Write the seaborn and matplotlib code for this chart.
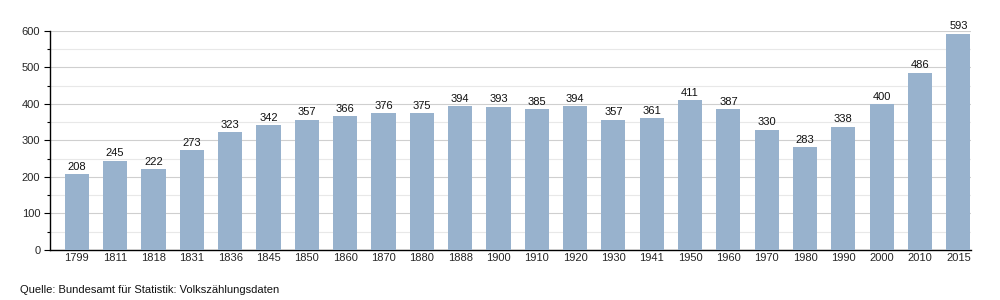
import matplotlib
matplotlib.use("Agg")
import matplotlib.pyplot as plt
import seaborn as sns
import pandas as pd
from matplotlib.ticker import MultipleLocator

years = ["1799", "1811", "1818", "1831", "1836", "1845", "1850", "1860", "1870", "1880",
         "1888", "1900", "1910", "1920", "1930", "1941", "1950", "1960", "1970", "1980",
         "1990", "2000", "2010", "2015"]
population = [208, 245, 222, 273, 323, 342, 357, 366, 376, 375,
              394, 393, 385, 394, 357, 361, 411, 387, 330, 283,
              338, 400, 486, 593]
source_text = "Quelle: Bundesamt für Statistik: Volkszählungsdaten"

sns.set_theme(style="white")
plt.rcParams["font.family"] = ["Liberation Sans", "DejaVu Sans"]

df = pd.DataFrame({"year": years, "pop": population})

fig = plt.figure(figsize=(10, 3), dpi=100)
ax = fig.add_axes([0.05, 0.1667, 0.921, 0.73])

sns.barplot(data=df, x="year", y="pop", color="#98b2cd", width=0.63,
            saturation=1, ax=ax, zorder=3, linewidth=0)

for i, v in enumerate(population):
    ax.text(i, v + 6, str(v), ha="center", va="bottom", fontsize=8,
            color="#111111", clip_on=False, zorder=4)

ax.set_xlim(-0.7, 23.33)
ax.set_ylim(0, 600)
ax.yaxis.set_major_locator(MultipleLocator(100))
ax.yaxis.set_minor_locator(MultipleLocator(50))
ax.grid(axis="y", which="major", color="#cfcfcf", linewidth=0.8, zorder=0)
ax.grid(axis="y", which="minor", color="#e8e8e8", linewidth=0.8, zorder=0)
ax.set_axisbelow(True)

for s in ["top", "right"]:
    ax.spines[s].set_visible(False)
for s in ["left", "bottom"]:
    ax.spines[s].set_color("black")
    ax.spines[s].set_linewidth(1.0)

ax.tick_params(axis="y", which="major", left=True, length=4, width=0.8,
               color="black", labelsize=8, pad=3)
ax.tick_params(axis="y", which="minor", left=True, length=2.5, width=0.8, color="black")
ax.tick_params(axis="x", bottom=False, length=0, labelsize=8, pad=2)
ax.set_xlabel("")
ax.set_ylabel("")

fig.text(0.02, 0.018, source_text, fontsize=8, ha="left", va="bottom", color="#111111")

fig.savefig("out.png", dpi=100)
